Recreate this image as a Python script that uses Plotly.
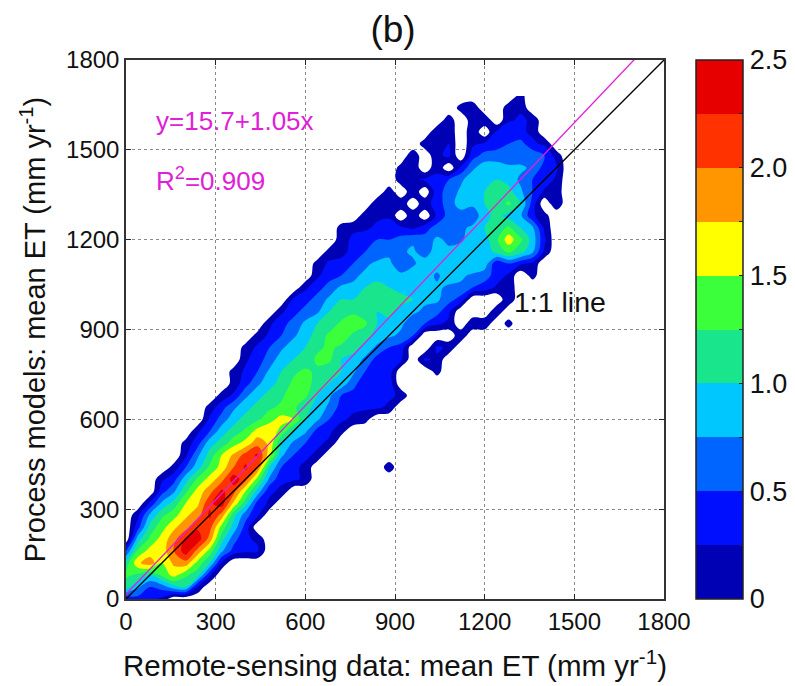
import plotly.graph_objects as go

# Grid (mm/yr), 40 mm bins
x_bins = [i * 40 for i in range(38)]
y_bins = [j * 40 for j in range(43)]
EMPTY = -0.2  # cells with no pixels

# first x-bin index of each row, then the densities; None = empty cell
row_start = [0, 0, 0, 0, 0, 1, 1, 1, 2, 3, 3, 4, 5, 5, 6, 7, 7, 8, 9, 9, 10, 10, 11, 12, 13, 14,
             15, 16, 16, 17, 18, 18, 20, 21, 22, 23, 23, 24, 25, 26, 27, 28, 33]
row_values = [
    [0.3, 0.4, 0.3, 0.2],
    [1.1, 0.8, 0.5, 0.6, 0.9, 1.0, 0.2],
    [1.3, 1.2, 1.0, 1.3, 1.6, 1.3, 1.1, 0.3],
    [1.1, 1.7, 1.9, 1.5, 1.8, 1.9, 1.4, 1.0, 0.2],
    [0.5, 1.3, 1.6, 1.6, 2.0, 2.4, 1.9, 1.4, 0.8, 0.4, 0.3, 0.3],
    [0.9, 1.3, 1.6, 1.9, 2.3, 2.4, 1.9, 1.1, 0.6, 0.3, 0.2],
    [0.4, 1.1, 1.4, 1.7, 1.9, 2.2, 2.1, 1.4, 0.9, 0.4],
    [0.2, 0.8, 1.2, 1.4, 1.7, 1.9, 2.3, 1.9, 1.1, 0.6, 0.3],
    [0.3, 0.8, 1.1, 1.5, 1.7, 2.2, 2.4, 1.7, 1.1, 0.4, 0.2],
    [0.4, 0.7, 1.2, 1.6, 1.9, 2.3, 2.1, 1.5, 0.9, 0.3, 0.2],
    [0.2, 0.4, 0.9, 1.3, 1.6, 1.9, 2.4, 2.1, 1.4, 0.7, 0.3, 0.3, 0.2],
    [0.1, 0.5, 0.9, 1.3, 1.6, 2.0, 2.3, 2.0, 1.0, 0.5, 0.3, 0.2, None, None, None, None, None, None, 0.15],
    [0.2, 0.7, 1.1, 1.5, 1.8, 2.1, 2.3, 1.6, 0.8, 0.5, 0.3, 0.2],
    [0.1, 0.4, 0.9, 1.1, 1.4, 1.6, 1.9, 1.7, 1.0, 0.7, 0.5, 0.3, 0.2],
    [0.2, 0.5, 0.9, 1.1, 1.3, 1.6, 1.7, 1.4, 1.0, 0.8, 0.4, 0.3, 0.1],
    [0.3, 0.6, 0.9, 1.1, 1.2, 1.4, 1.6, 1.5, 1.0, 0.8, 0.5, 0.3, 0.2, 0.1],
    [0.1, 0.4, 0.7, 0.9, 1.1, 1.2, 1.3, 1.3, 1.1, 0.9, 0.7, 0.4, 0.3, 0.3, 0.3, 0.2],
    [0.1, 0.3, 0.7, 0.9, 1.1, 1.2, 1.4, 1.3, 1.0, 0.8, 0.5, 0.4, 0.3, 0.3, 0.3, 0.2],
    [0.1, 0.4, 0.7, 0.9, 1.1, 1.3, 1.4, 1.1, 1.0, 0.9, 0.6, 0.3, 0.3, 0.4],
    [0.1, 0.3, 0.5, 0.8, 1.0, 1.2, 1.3, 1.2, 1.1, 1.0, 0.8, 0.5, 0.4, 0.4, None, None, None, 0.1],
    [0.2, 0.4, 0.6, 0.9, 1.0, 1.1, 1.3, 1.3, 1.0, 0.9, 0.7, 0.4, 0.5, 0.3, None, 0.3, 0.2],
    [0.1, 0.3, 0.5, 0.7, 0.9, 1.0, 1.2, 1.3, 1.2, 1.1, 0.9, 0.7, 0.5, 0.4, None, None, 0.3, 0.2],
    [0.1, 0.3, 0.5, 0.7, 0.9, 1.1, 1.3, 1.4, 1.2, 1.1, 0.9, 0.8, 0.7, 0.5, None, None, None, 0.2],
    [0.2, 0.4, 0.6, 0.8, 1.0, 1.1, 1.3, 1.4, 1.3, 1.0, 0.9, 0.8, 0.6, 0.5, 0.3, 0.2, None, 0.2, 0.2, None, 0.1],
    [0.2, 0.4, 0.6, 0.7, 1.0, 1.1, 1.2, 1.1, 1.0, 1.1, 0.9, 0.8, 0.7, 0.6, 0.3, None, None, None, 0.2],
    [0.3, 0.4, 0.6, 0.8, 1.0, 1.0, 1.1, 1.2, 1.2, 1.1, 1.0, 0.8, 0.8, 0.6, 0.4, None, None, None, 0.2],
    [0.2, 0.4, 0.6, 0.8, 0.8, 1.0, 1.1, 1.0, 0.9, 0.9, 1.0, 0.8, 0.7, 0.7, 0.5, 0.4, 0.2, 0.2],
    [0.2, 0.4, 0.5, 0.7, 0.8, 0.9, 0.9, 0.8, 0.9, 0.9, 0.7, 0.9, 0.8, 0.7, 0.6, 0.4, 0.2, None, 0.1],
    [0.1, 0.3, 0.3, 0.5, 0.7, 0.8, 0.8, 0.6, 0.7, 0.9, 0.9, 0.8, 0.8, 1.0, 0.9, 0.3, 0.5, 0.3, 0.2],
    [0.1, 0.2, 0.3, 0.5, 0.6, 0.7, 0.7, 0.8, 0.6, 0.9, 0.8, 0.9, 0.8, 0.8, 1.1, 1.3, 1.1, 0.8, 0.2],
    [0.15, 0.3, 0.4, 0.5, 0.5, 0.6, 0.7, 0.6, 0.8, 0.7, 0.7, 0.9, 0.9, 1.2, 1.65, 1.3, 0.9, 0.3],
    [0.1, 0.2, 0.2, 0.3, 0.4, 0.3, 0.2, 0.4, 0.6, 0.7, 0.7, 0.8, 1.0, 1.1, 1.3, 1.0, 0.8, 0.2],
    [0.15, 0.2, 0.2, None, 0.2, None, 0.3, 0.6, 0.7, 0.6, 0.9, 1.1, 0.9, 0.8, 0.3, 0.1],
    [0.2, 0.1, 0.2, None, 0.2, 0.3, 0.7, 0.8, 0.8, 1.0, 1.1, 1.3, 1.0, 0.4, None, 0.2],
    [0.15, None, 0.2, None, 0.4, 0.6, 0.8, 0.9, 1.0, 1.1, 1.1, 0.8, 0.5, 0.2, 0.15],
    [0.15, 0.2, 0.3, 0.3, 0.5, 0.7, 0.9, 0.9, 1.0, 0.9, 0.7, 0.5, 0.4, 0.2],
    [0.1, 0.2, None, 0.2, None, 0.3, 0.7, 0.9, 0.8, 0.8, 0.8, 0.7, 0.4, 0.3],
    [0.2, None, 0.2, 0.3, None, 0.4, 0.6, 0.7, 0.6, 0.6, 0.7, 0.5, 0.15],
    [0.15, 0.2, 0.25, None, 0.2, 0.3, 0.3, 0.5, 0.6, 0.3, 0.2],
    [0.2, 0.2, None, 0.2, None, 0.3, 0.5, 0.3, 0.2],
    [0.15, None, 0.15, 0.2, None, 0.2, 0.3, 0.2],
    [0.1, 0.2, None, None, 0.15, 0.2],
    [0.1],
]

band_colors = ["#0000b4", "#0010ff", "#0064ff", "#00c8ff", "#19e68c",
               "#3cff3c", "#ffff00", "#ff9600", "#ff3200", "#e60000"]
fit_intercept = 15.7
fit_slope = 1.05
axis_ticks = [0, 300, 600, 900, 1200, 1500, 1800]
cbar_ticks = [0, 0.25, 0.5, 0.75, 1.0, 1.25, 1.5, 1.75, 2.0, 2.25, 2.5]
cbar_labels = ["0", "", "0.5", "", "1.0", "", "1.5", "", "2.0", "", "2.5"]

z = []
for start, vals in zip(row_start, row_values):
    row = [EMPTY] * start + [EMPTY if v is None else v for v in vals]
    row += [EMPTY] * (len(x_bins) - len(row))
    z.append(row)

# contour fill colours: everything below zero stays see-through, then one flat colour per band
clear = "rgba(255,255,255,0)"
contour_scale = [[0, clear], [1.5 / 12, clear]]
for i, c in enumerate(band_colors):
    contour_scale += [[(i + 1.5) / 12, c], [min((i + 2.5) / 12, 1), c]]
contour_scale.append([1, band_colors[-1]])

n = len(band_colors)
bar_scale = []
for i, c in enumerate(band_colors):
    bar_scale += [[i / n, c], [(i + 1) / n, c]]

FONT = "Liberation Sans"
fig = go.Figure()
fig.add_trace(go.Contour(
    x=x_bins, y=y_bins, z=z, zmin=-0.25, zmax=2.5, colorscale=contour_scale, showscale=False,
    autocontour=False, connectgaps=True,
    contours=dict(start=-0.25, end=2.5, size=0.25, coloring="fill", showlines=False),
    line=dict(width=0), hoverinfo="skip",
))
fig.add_trace(go.Scatter(
    x=[None, None], y=[None, None], mode="markers", showlegend=False, hoverinfo="skip",
    marker=dict(color=[0, 2.5], cmin=0, cmax=2.5, colorscale=bar_scale, showscale=True,
                colorbar=dict(
                    x=1.0595, xanchor="left", y=0.5, yanchor="middle", len=1, lenmode="fraction",
                    thickness=47, thicknessmode="pixels", xpad=0, ypad=0,
                    outlinecolor="#222", outlinewidth=1.5,
                    tickmode="array", tickvals=cbar_ticks, ticktext=cbar_labels,
                    ticks="inside", ticklen=4, tickcolor="#222",
                    tickfont=dict(family=FONT, size=27, color="#111"),
                )),
))
ends = [0, 1800]
fig.add_trace(go.Scatter(x=ends, y=[fit_intercept + fit_slope * v for v in ends], mode="lines",
                         line=dict(color="#e020d8", width=1.3), showlegend=False, hoverinfo="skip"))
fig.add_trace(go.Scatter(x=ends, y=ends, mode="lines",
                         line=dict(color="black", width=1.3), showlegend=False, hoverinfo="skip"))

axis = dict(range=[0, 1800], tickvals=axis_ticks, ticks="inside", ticklen=5, tickcolor="#222",
            showline=True, linecolor="#333", linewidth=1.5, mirror="ticks",
            showgrid=True, gridcolor="#888", griddash="dot", gridwidth=1, zeroline=False,
            tickfont=dict(family=FONT, size=24, color="#111"))
fig.update_layout(
    width=787, height=678, autosize=False,
    margin=dict(l=118, r=131, t=52, b=87, autoexpand=False),
    paper_bgcolor="white", plot_bgcolor="white", showlegend=False,
    xaxis=dict(axis, title=dict(text="Remote-sensing data: mean ET (mm yr<sup>-1</sup>)",
                                font=dict(family=FONT, size=29.5, color="#111"), standoff=22)),
    yaxis=dict(axis, title=dict(text="Process models: mean ET (mm yr<sup>-1</sup>)",
                                font=dict(family=FONT, size=29, color="#111"), standoff=12)),
    title=dict(text="(b)", x=385 / 787, xanchor="center", y=1 - 21 / 678, yanchor="middle",
               font=dict(family=FONT, size=37, color="#111")),
    annotations=[
        dict(x=94, y=1597, text="y=15.7+1.05x", showarrow=False, xanchor="left",
             font=dict(family=FONT, size=26, color="#e020d8")),
        dict(x=94, y=1400, text="R<sup>2</sup>=0.909", showarrow=False, xanchor="left",
             font=dict(family=FONT, size=26, color="#e020d8")),
        dict(x=1292, y=992, text="1:1 line", showarrow=False, xanchor="left",
             font=dict(family=FONT, size=28.5, color="#111")),
    ],
)
fig.write_html("out.html")
